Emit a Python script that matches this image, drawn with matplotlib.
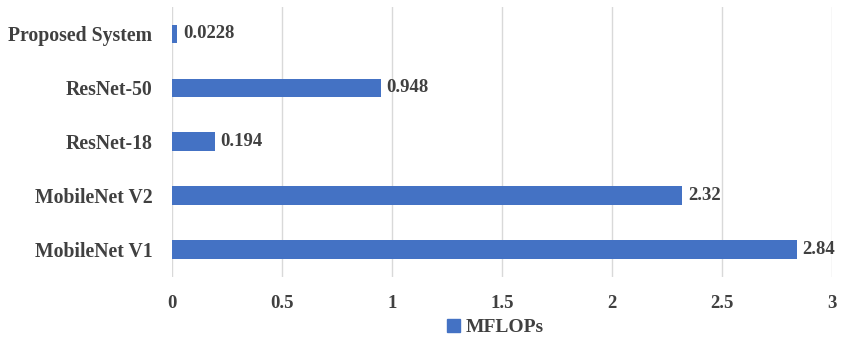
import matplotlib
matplotlib.use("Agg")
import matplotlib.pyplot as plt
from matplotlib.patches import Patch

models = ["MobileNet V1", "MobileNet V2", "ResNet-18", "ResNet-50", "Proposed System"]
mflops = [2.84, 2.32, 0.194, 0.948, 0.0228]
value_labels = ["2.84", "2.32", "0.194", "0.948", "0.0228"]
xticks = [0, 0.5, 1, 1.5, 2, 2.5, 3]
xtick_labels = ["0", "0.5", "1", "1.5", "2", "2.5", "3"]
series_name = "MFLOPs"

bar_color = "#4472C4"
text_color = "#404040"
grid_color = "#d9d9d9"
plt.rcParams["font.family"] = ["Liberation Serif", "DejaVu Serif"]

fig = plt.figure(figsize=(8.41, 3.41), dpi=100)
ax = fig.add_axes([0.2045, 0.188, 0.7848, 0.7915])

pos = list(range(len(models)))
ax.barh(pos, mflops, height=0.35, color=bar_color, zorder=3)
for p, v, lab in zip(pos, mflops, value_labels):
    ax.text(v + 0.027, p, lab, va="center", ha="left", fontsize=13.5,
            fontweight="bold", color=text_color)

ax.set_xlim(0, 3)
ax.set_ylim(-0.5, len(models) - 0.5)
ax.set_yticks(pos)
ax.set_yticklabels(models, fontsize=14.2, fontweight="bold", color=text_color)
ax.set_xticks(xticks)
ax.set_xticklabels(xtick_labels, fontsize=13.5, fontweight="bold", color=text_color)
ax.tick_params(axis="both", length=0)
ax.tick_params(axis="y", pad=14)
ax.tick_params(axis="x", pad=13)
ax.grid(axis="x", color=grid_color, linewidth=1, zorder=0)
for s in ax.spines.values():
    s.set_visible(False)

fig.legend(handles=[Patch(color=bar_color, label=series_name)],
           loc="center", bbox_to_anchor=(0.589, 0.04), frameon=False,
           handlelength=0.7, handleheight=0.7, handletextpad=0.3,
           prop={"size": 14, "weight": "bold"}, labelcolor=text_color)

fig.savefig("out.png", dpi=100)
